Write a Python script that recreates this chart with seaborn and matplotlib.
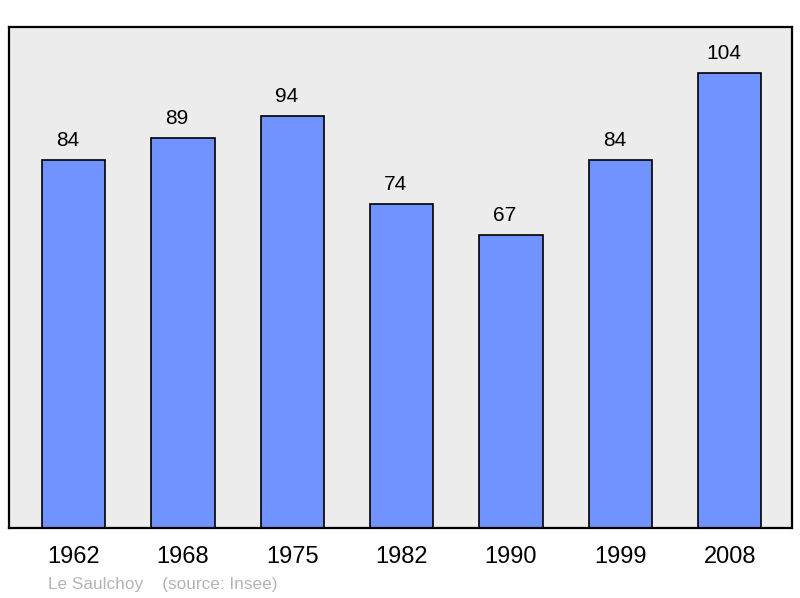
import matplotlib

matplotlib.use("Agg")
import matplotlib.pyplot as plt
import pandas as pd
import seaborn as sns

years = ["1962", "1968", "1975", "1982", "1990", "1999", "2008"]
population = [84, 89, 94, 74, 67, 84, 104]
commune = "Le Saulchoy"
source = "(source: Insee)"

sns.set_theme(style="white")
plt.rcParams["font.family"] = ["Liberation Sans", "DejaVu Sans"]

data = pd.DataFrame({"year": years, "population": population})

figure = plt.figure(figsize=(8, 5.98), dpi=100)
axis = figure.add_axes([9 / 800, 1 - 528 / 598, 783 / 800, 501 / 598])
axis.set_facecolor("#ececec")

sns.barplot(
    data=data,
    x="year",
    y="population",
    color="#7093ff",
    saturation=1,
    width=0.58,
    edgecolor="black",
    linewidth=1.2,
    ax=axis,
)

# value labels sit a little left of the bar centre, like the original
for index, value in enumerate(population):
    axis.text(
        index - 0.055,
        value + 3.2,
        str(value),
        ha="center",
        va="baseline",
        fontsize=15,
        color="black",
    )

axis.set_xlim(-0.59, 6.57)
axis.set_ylim(0, 114.4)
axis.set_yticks([])
axis.set_xlabel("")
axis.set_ylabel("")
axis.tick_params(axis="x", length=0, labelsize=17, pad=13, colors="black")
for spine in axis.spines.values():
    spine.set_visible(True)
    spine.set_color("black")
    spine.set_linewidth(1.6)

figure.text(
    48 / 800,
    1 - 584 / 598,
    f"{commune}    {source}",
    fontsize=12.4,
    color="#b4b4b4",
    va="center",
    ha="left",
)

figure.savefig("out.png", dpi=100)
plt.close(figure)
